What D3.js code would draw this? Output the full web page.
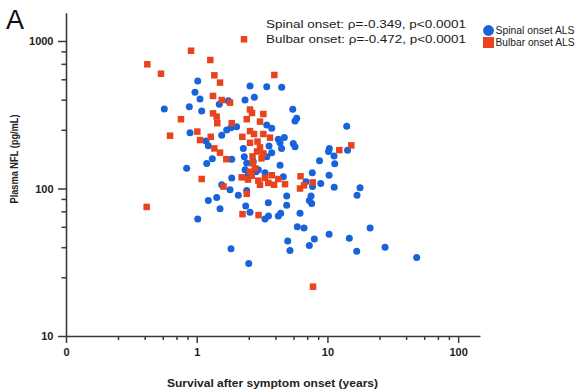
<!DOCTYPE html>
<html>
<head>
<meta charset="utf-8">
<script src="https://cdn.jsdelivr.net/npm/d3@7"></script>
<style>
  body { margin: 0; background: #fff; }
  svg { display: block; }
  text { font-family: "Liberation Sans", Arial, Helvetica, sans-serif; }
</style>
</head>
<body>
<svg id="chart" width="576" height="390"></svg>
<script>
// Survival (years) and plasma NFL (pg/mL) per patient, by onset site
const spinalSurvival = [0.565, 0.838, 1.018, 0.97, 1.06, 0.878, 1.092, 1.489, 1.745, 0.889,
  2.02, 1.696, 1.553, 1.178, 1.227, 1.853, 1.316, 1.193, 1.853, 1.553,
  1.798, 2.081, 1.422, 1.227, 1.508, 1.018, 1.83, 2.273, 2.313, 2.413,
  2.342, 2.557, 3.433, 4.47, 2.759, 2.342, 5.43, 5.82, 5.65, 3.433,
  3.75, 4.21, 4.68, 4.34, 5.48, 5.65, 3.575, 3.75, 2.71, 3.433,
  4.34, 2.96, 6.86, 4.88, 3.53, 4.88, 2.371, 2.557, 3.33, 3.54,
  6.17, 4.21, 4.39, 4.6, 2.482, 2.843, 3.33, 2.413, 7.49, 7.27,
  7.58, 7.66, 10.3, 8.89, 11.27, 7.69, 14.05, 10.34, 10.2, 14.25,
  8.7, 11.23, 11.37, 17.76, 16.85, 1.83, 2.5, 4.97, 5.17, 7.27,
  7.94, 10.3, 14.71, 5.885, 6.62, 21.2, 16.76, 27.6, 48.2, 4.46];
const spinalNfl = [346, 137, 536, 449, 404, 358, 335, 372, 394, 239,
  262, 249, 230, 210, 195, 158, 159, 148, 118, 106,
  98, 90, 87, 83, 73, 62, 258, 187, 164, 149,
  134, 495, 490, 485, 415, 398, 344, 299, 287, 269,
  256, 216, 222, 204, 202, 192, 194, 175, 152, 164,
  144, 134, 111, 89, 80, 77, 76, 69, 62, 65,
  68, 65, 68, 120, 125, 130, 128, 97, 89, 83,
  79, 128, 123, 108, 102, 103, 264, 187, 178, 182,
  154, 166, 147, 101, 90, 39, 31, 44, 38, 41,
  45.5, 49, 46, 55, 54, 54, 37.5, 40, 34, 187];

const bulbarSurvival = [0.419, 0.533, 0.758, 0.625, 0.414, 0.905, 1.271, 2.301, 3.925, 1.364,
  1.508, 1.333, 1.553, 1.798, 1.333, 1.422, 1.437, 1.853, 1.011, 1.28,
  1.06, 1.364, 1.508, 1.685, 1.092, 1.604, 2.241, 2.557, 2.649, 3.234,
  2.413, 3.05, 2.233, 2.557, 2.744, 3.234, 3.638, 2.557, 2.919, 3.05,
  2.893, 3.234, 2.673, 3.132, 2.683, 2.793, 2.557, 2.21, 2.469, 2.635,
  2.96, 3.05, 3.33, 3.75, 3.904, 4.21, 3.53, 4.74, 6.23, 6.17,
  6.62, 7.72, 2.413, 2.971, 12.33, 15.23, 7.76];
const bulbarNfl = [695, 600, 295, 228, 75, 859, 743, 1027, 588, 585,
  522, 424, 398, 382, 323, 307, 277, 277, 243, 224,
  213, 187, 175, 158, 116, 103, 67, 343, 325, 320,
  295, 284, 224, 245, 234, 234, 221, 204, 208, 190,
  178, 173, 165, 160, 148, 137, 130, 119, 115, 122,
  113, 106, 118, 123, 106, 116, 109, 107, 121, 100,
  105, 110, 92, 66, 182, 196, 21.6];

// Axis ticks and labels
const xMajorTicks = [0.1, 1, 10, 100];
const xTickLabels = ["0", "1", "10", "100"];
const xMinorTicks = [0.25, 0.4, 0.55, 0.7, 0.85, 2.5, 4, 5.5, 7, 8.5, 25, 40, 55, 70, 85];
const yMajorTicks = [10, 100, 1000];
const yTickLabels = ["10", "100", "1000"];
const yMinorTicks = [25, 40, 55, 70, 85, 250, 400, 550, 700, 850];

const seriesNames = ["Spinal onset ALS", "Bulbar onset ALS"];
const statLines = ["Spinal onset: \u03c1=-0.349, p<0.0001", "Bulbar onset: \u03c1=-0.472, p<0.0001"];

const blue = "#1862dc";
const red = "#e8431c";
const axisColor = "#3a3a3a";

const svg = d3.select("#chart");

const x = d3.scaleLog().domain([0.1, 147]).range([66, 480]);
const y = d3.scaleLog().domain([10, 1555]).range([336, 12.7]);

// Minor ticks
svg.append("g")
  .attr("transform", "translate(0,336)")
  .call(d3.axisBottom(x).tickValues(xMinorTicks).tickSize(4).tickSizeOuter(0).tickFormat(""))
  .call(g => g.select(".domain").remove());
svg.append("g")
  .attr("transform", "translate(66,0)")
  .call(d3.axisLeft(y).tickValues(yMinorTicks).tickSize(4.5).tickSizeOuter(0).tickFormat(""))
  .call(g => g.select(".domain").remove());

// Major ticks with labels
svg.append("g")
  .attr("transform", "translate(0,336)")
  .call(d3.axisBottom(x).tickValues(xMajorTicks).tickSize(7).tickSizeOuter(0).tickPadding(5)
    .tickFormat((d, i) => xTickLabels[i]));
svg.append("g")
  .attr("transform", "translate(66,0)")
  .call(d3.axisLeft(y).tickValues(yMajorTicks).tickSize(8).tickSizeOuter(0).tickPadding(4.5)
    .tickFormat((d, i) => yTickLabels[i]));

svg.selectAll(".tick line").attr("stroke", axisColor).attr("stroke-width", 1.5);
svg.selectAll(".domain").attr("stroke", axisColor).attr("stroke-width", 1.6);
svg.selectAll(".tick text")
  .attr("fill", "#222")
  .style("font-size", "11px")
  .style("font-weight", "bold")
  .style("font-family", "'Liberation Sans', Arial, sans-serif");

// Points: spinal onset drawn first, bulbar onset on top
const spinal = spinalSurvival.map((s, i) => ({ s, v: spinalNfl[i] }));
const bulbar = bulbarSurvival.map((s, i) => ({ s, v: bulbarNfl[i] }));

svg.append("g").selectAll("circle")
  .data(spinal).join("circle")
  .attr("cx", d => x(d.s))
  .attr("cy", d => y(d.v))
  .attr("r", 3.5)
  .attr("fill", blue);

const sq = 6.5;
svg.append("g").selectAll("rect")
  .data(bulbar).join("rect")
  .attr("x", d => x(d.s) - sq / 2)
  .attr("y", d => y(d.v) - sq / 2)
  .attr("width", sq)
  .attr("height", sq)
  .attr("fill", red);

// Axis titles
svg.append("text")
  .attr("x", 272.5).attr("y", 386.5)
  .attr("text-anchor", "middle")
  .attr("textLength", 211).attr("lengthAdjust", "spacingAndGlyphs")
  .style("font-size", "11.5px").style("font-weight", "bold").attr("fill", "#222")
  .text("Survival after symptom onset (years)");

svg.append("text")
  .attr("transform", "translate(17.5,159) rotate(-90)")
  .attr("text-anchor", "middle")
  .attr("textLength", 89).attr("lengthAdjust", "spacingAndGlyphs")
  .style("font-size", "11px").style("font-weight", "bold").attr("fill", "#222")
  .text("Plasma NFL (pg/mL)");

// Panel letter
svg.append("text")
  .attr("x", 6).attr("y", 29.3)
  .style("font-size", "27px").attr("fill", "#111")
  .text("A");

// Correlation statistics
statLines.forEach((t, i) => {
  svg.append("text")
    .attr("x", 266).attr("y", 28.3 + i * 14.4)
    .attr("textLength", 200).attr("lengthAdjust", "spacingAndGlyphs")
    .style("font-size", "11.8px").attr("fill", "#1a1a1a")
    .text(t);
});

// Legend
const legend = svg.append("g");
legend.append("circle").attr("cx", 488.5).attr("cy", 30.5).attr("r", 5.4).attr("fill", blue);
legend.append("rect").attr("x", 483).attr("y", 37).attr("width", 11).attr("height", 11).attr("fill", red);
seriesNames.forEach((t, i) => {
  legend.append("text")
    .attr("x", 495.5).attr("y", 34.2 + i * 11.8)
    .attr("textLength", 79).attr("lengthAdjust", "spacingAndGlyphs")
    .style("font-size", "10px").attr("fill", "#1a1a1a")
    .text(t);
});
</script>
</body>
</html>
